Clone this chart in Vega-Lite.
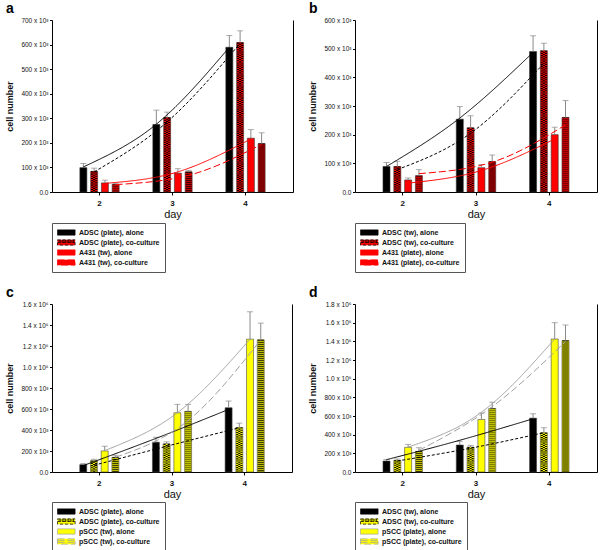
{
  "$schema": "https://vega.github.io/schema/vega-lite/v6.json",
  "autosize": {"type": "none"},
  "padding": {"left": 52, "top": 20, "right": 548, "bottom": 530},
  "background": "white",
  "datasets": {
    "bars": [
      {"panel": "a", "day": 2, "series": "ADSC (plate), alone", "value": 99, "hi": 116, "trend": 102},
      {"panel": "a", "day": 3, "series": "ADSC (plate), alone", "value": 275, "hi": 333, "trend": 276},
      {"panel": "a", "day": 4, "series": "ADSC (plate), alone", "value": 589, "hi": 637, "trend": 589},
      {"panel": "a", "day": 2, "series": "ADSC (plate), co-culture", "value": 84, "hi": 97, "trend": 82},
      {"panel": "a", "day": 3, "series": "ADSC (plate), co-culture", "value": 303, "hi": 325, "trend": 285},
      {"panel": "a", "day": 4, "series": "ADSC (plate), co-culture", "value": 608, "hi": 656, "trend": 605},
      {"panel": "a", "day": 2, "series": "A431 (tw), alone", "value": 37, "hi": 48, "trend": 35},
      {"panel": "a", "day": 3, "series": "A431 (tw), alone", "value": 77, "hi": 95, "trend": 82},
      {"panel": "a", "day": 4, "series": "A431 (tw), alone", "value": 219, "hi": 254, "trend": 216},
      {"panel": "a", "day": 2, "series": "A431 (tw), co-culture", "value": 31, "hi": 35, "trend": 30},
      {"panel": "a", "day": 3, "series": "A431 (tw), co-culture", "value": 82, "hi": 88, "trend": 68},
      {"panel": "a", "day": 4, "series": "A431 (tw), co-culture", "value": 197, "hi": 241, "trend": 194},
      {"panel": "b", "day": 2, "series": "ADSC (tw), alone", "value": 89, "hi": 103, "trend": 89},
      {"panel": "b", "day": 3, "series": "ADSC (tw), alone", "value": 254, "hi": 298, "trend": 258},
      {"panel": "b", "day": 4, "series": "ADSC (tw), alone", "value": 490, "hi": 545, "trend": 487},
      {"panel": "b", "day": 2, "series": "ADSC (tw), co-culture", "value": 89, "hi": 107, "trend": 78},
      {"panel": "b", "day": 3, "series": "ADSC (tw), co-culture", "value": 224, "hi": 266, "trend": 205},
      {"panel": "b", "day": 4, "series": "ADSC (tw), co-culture", "value": 493, "hi": 519, "trend": 449},
      {"panel": "b", "day": 2, "series": "A431 (plate), alone", "value": 42, "hi": 49, "trend": 31},
      {"panel": "b", "day": 3, "series": "A431 (plate), alone", "value": 85, "hi": 96, "trend": 75},
      {"panel": "b", "day": 4, "series": "A431 (plate), alone", "value": 200, "hi": 226, "trend": 185},
      {"panel": "b", "day": 2, "series": "A431 (plate), co-culture", "value": 57, "hi": 78, "trend": 64},
      {"panel": "b", "day": 3, "series": "A431 (plate), co-culture", "value": 106, "hi": 129, "trend": 104},
      {"panel": "b", "day": 4, "series": "A431 (plate), co-culture", "value": 260, "hi": 319, "trend": 234},
      {"panel": "c", "day": 2, "series": "ADSC (plate), alone", "value": 70, "hi": 80, "trend": 61},
      {"panel": "c", "day": 3, "series": "ADSC (plate), alone", "value": 284, "hi": 331, "trend": 320},
      {"panel": "c", "day": 4, "series": "ADSC (plate), alone", "value": 612, "hi": 676, "trend": 596},
      {"panel": "c", "day": 2, "series": "ADSC (plate), co-culture", "value": 108, "hi": 121, "trend": 64},
      {"panel": "c", "day": 3, "series": "ADSC (plate), co-culture", "value": 268, "hi": 287, "trend": 245},
      {"panel": "c", "day": 4, "series": "ADSC (plate), co-culture", "value": 424, "hi": 465, "trend": 421},
      {"panel": "c", "day": 2, "series": "pSCC (tw), alone", "value": 201, "hi": 245, "trend": 204},
      {"panel": "c", "day": 3, "series": "pSCC (tw), alone", "value": 564, "hi": 644, "trend": 564},
      {"panel": "c", "day": 4, "series": "pSCC (tw), alone", "value": 1265, "hi": 1526, "trend": 1265},
      {"panel": "c", "day": 2, "series": "pSCC (tw), co-culture", "value": 140, "hi": 159, "trend": 140},
      {"panel": "c", "day": 3, "series": "pSCC (tw), co-culture", "value": 577, "hi": 644, "trend": 490},
      {"panel": "c", "day": 4, "series": "pSCC (tw), co-culture", "value": 1259, "hi": 1418, "trend": 1259},
      {"panel": "d", "day": 2, "series": "ADSC (tw), alone", "value": 118, "hi": 135, "trend": 132},
      {"panel": "d", "day": 3, "series": "ADSC (tw), alone", "value": 289, "hi": 328, "trend": 340},
      {"panel": "d", "day": 4, "series": "ADSC (tw), alone", "value": 577, "hi": 624, "trend": 570},
      {"panel": "d", "day": 2, "series": "ADSC (tw), co-culture", "value": 125, "hi": 139, "trend": 118},
      {"panel": "d", "day": 3, "series": "ADSC (tw), co-culture", "value": 267, "hi": 285, "trend": 255},
      {"panel": "d", "day": 4, "series": "ADSC (tw), co-culture", "value": 421, "hi": 474, "trend": 421},
      {"panel": "d", "day": 2, "series": "pSCC (plate), alone", "value": 264, "hi": 296, "trend": 267},
      {"panel": "d", "day": 3, "series": "pSCC (plate), alone", "value": 563, "hi": 631, "trend": 640},
      {"panel": "d", "day": 4, "series": "pSCC (plate), alone", "value": 1425, "hi": 1600, "trend": 1425},
      {"panel": "d", "day": 2, "series": "pSCC (plate), co-culture", "value": 221, "hi": 260, "trend": 232},
      {"panel": "d", "day": 3, "series": "pSCC (plate), co-culture", "value": 681, "hi": 748, "trend": 700},
      {"panel": "d", "day": 4, "series": "pSCC (plate), co-culture", "value": 1408, "hi": 1575, "trend": 1397}
    ]
  },
  "columns": 2,
  "bounds": "flush",
  "spacing": {"row": 112, "column": 62},
  "resolve": {
    "scale": {"xOffset": "independent", "fill": "independent", "stroke": "independent", "strokeDash": "independent", "shape": "independent"},
    "legend": {"fill": "independent", "shape": "independent"}
  },
  "concat": [
    {
      "width": 241, "height": 172,
      "title": "a",
      "data": {"name": "bars"},
      "transform": [{"filter": "datum.panel == 'a'"}],
      "resolve": {"axis": {"y": "independent"}},
      "encoding": {
        "x": {"field": "day", "type": "ordinal", "title": "day", "scale": {"paddingInner": 0.41, "paddingOuter": 0.356}},
        "xOffset": {"field": "series", "type": "nominal", "scale": {"domain": ["ADSC (plate), alone", "ADSC (plate), co-culture", "A431 (tw), alone", "A431 (tw), co-culture"], "paddingInner": 0.35, "paddingOuter": 0.175}},
        "y": {"field": "value", "type": "quantitative", "scale": {"domain": [0, 700], "nice": false}, "axis": null}
      },
      "layer": [
        {
          "mark": {"type": "bar", "stroke": "#333", "strokeWidth": 0.6},
          "encoding": {
            "y": {"field": "value", "type": "quantitative", "scale": {"domain": [0, 700], "nice": false}, "title": "cell number",
              "axis": {"values": [0, 100, 200, 300, 400, 500, 600, 700], "labelExpr": "datum.value == 0 ? '0.0' : datum.value < 1000 ? datum.value + ' x 10³' : format(datum.value / 1000, '.1f') + ' x 10⁶'"}},
            "fill": {"field": "series", "type": "nominal", "scale": {"domain": ["ADSC (plate), alone", "ADSC (plate), co-culture", "A431 (tw), alone", "A431 (tw), co-culture"], "range": ["#000000", "#ff0000", "#ff0000", "#ff0000"]},
              "legend": {"orient": "none", "legendX": 0, "legendY": 203, "title": null}}
          }
        },
        {"transform": [{"filter": "indexof(datum.series, 'ADSC') == 0 && indexof(datum.series, 'co-culture') > 0"}],
         "mark": {"type": "rule", "color": "#000", "strokeWidth": 6.2, "strokeDash": [1.1, 1.1], "strokeCap": "butt"}, "encoding": {"y2": {"datum": 0}}},
        {"transform": [{"filter": "indexof(datum.series, 'ADSC') == 0 && indexof(datum.series, 'co-culture') > 0"}],
         "mark": {"type": "rule", "color": "#ff0000", "strokeWidth": 2.1, "strokeCap": "butt"}, "encoding": {"y2": {"datum": 0}}},
        {"transform": [{"filter": "indexof(datum.series, 'ADSC') == 0 && indexof(datum.series, 'co-culture') > 0"}],
         "mark": {"type": "rule", "color": "#000", "strokeWidth": 2.1, "strokeDash": [1.1, 1.1], "strokeDashOffset": 1.1, "strokeCap": "butt"}, "encoding": {"y2": {"datum": 0}}},
        {"transform": [{"filter": "indexof(datum.series, 'ADSC') != 0 && indexof(datum.series, 'co-culture') > 0"}],
         "mark": {"type": "rule", "color": "#000", "strokeWidth": 6.2, "strokeDash": [0.9, 1.1], "strokeCap": "butt"}, "encoding": {"y2": {"datum": 0}}},
        {"mark": {"type": "rule", "color": "#8a8a8a", "strokeWidth": 1}, "encoding": {"y2": {"field": "hi"}}},
        {"mark": {"type": "tick", "color": "#8a8a8a", "size": 6, "thickness": 1},
         "encoding": {"y": {"field": "hi", "type": "quantitative", "scale": {"domain": [0, 700], "nice": false}, "axis": null}}},
        {
          "mark": {"type": "line", "strokeWidth": 1, "interpolate": "monotone"},
          "encoding": {
            "y": {"field": "trend", "type": "quantitative", "scale": {"domain": [0, 700], "nice": false}, "axis": {"orient": "right", "labels": false, "ticks": false, "title": null}},
            "stroke": {"field": "series", "type": "nominal", "scale": {"domain": ["ADSC (plate), alone", "ADSC (plate), co-culture", "A431 (tw), alone", "A431 (tw), co-culture"], "range": ["#000000", "#000000", "#ff0000", "#ff0000"]}, "legend": null},
            "strokeDash": {"field": "series", "type": "nominal", "scale": {"domain": ["ADSC (plate), alone", "ADSC (plate), co-culture", "A431 (tw), alone", "A431 (tw), co-culture"], "range": [[1, 0], [3, 2], [1, 0], [7, 3]]}, "legend": null}
          }
        },
        {
          "transform": [{"filter": "false"}],
          "mark": {"type": "point", "filled": true, "stroke": "#111", "strokeWidth": 0.7},
          "encoding": {
            "fill": {"field": "series", "type": "nominal", "scale": {"domain": ["ADSC (plate), alone", "ADSC (plate), co-culture", "A431 (tw), alone", "A431 (tw), co-culture"], "range": ["#000000", "#ff0000", "#ff0000", "#ff0000"]},
              "legend": {"orient": "none", "legendX": 0, "legendY": 203, "title": null}},
            "shape": {"field": "series", "type": "nominal", "scale": {"domain": ["ADSC (plate), alone", "ADSC (plate), co-culture", "A431 (tw), alone", "A431 (tw), co-culture"], "range": ["M-1,-0.66H3.4V0.66H-1Z", "M-1,-0.66H3.4V0.66H-1ZM-1,0H3.4M-0.6,-0.66V0.66M-0.2,-0.66V0.66M0.2,-0.66V0.66M0.6,-0.66V0.66M1,-0.66V0.66M1.4,-0.66V0.66M1.8,-0.66V0.66M2.2,-0.66V0.66M2.6,-0.66V0.66M3,-0.66V0.66", "M-1,-0.66H3.4V0.66H-1Z", "M-1,-0.66H3.4V0.66H-1ZM-1,-0.22H3.4M-1,0.22H3.4"]},
              "legend": {"orient": "none", "legendX": 0, "legendY": 203, "title": null}}
          }
        }
      ]
    },
    {
      "width": 242, "height": 172,
      "title": "b",
      "data": {"name": "bars"},
      "transform": [{"filter": "datum.panel == 'b'"}],
      "resolve": {"axis": {"y": "independent"}},
      "encoding": {
        "x": {"field": "day", "type": "ordinal", "title": "day", "scale": {"paddingInner": 0.41, "paddingOuter": 0.356}},
        "xOffset": {"field": "series", "type": "nominal", "scale": {"domain": ["ADSC (tw), alone", "ADSC (tw), co-culture", "A431 (plate), alone", "A431 (plate), co-culture"], "paddingInner": 0.35, "paddingOuter": 0.175}},
        "y": {"field": "value", "type": "quantitative", "scale": {"domain": [0, 600], "nice": false}, "axis": null}
      },
      "layer": [
        {
          "mark": {"type": "bar", "stroke": "#333", "strokeWidth": 0.6},
          "encoding": {
            "y": {"field": "value", "type": "quantitative", "scale": {"domain": [0, 600], "nice": false}, "title": "cell number",
              "axis": {"values": [0, 100, 200, 300, 400, 500, 600], "labelExpr": "datum.value == 0 ? '0.0' : datum.value < 1000 ? datum.value + ' x 10³' : format(datum.value / 1000, '.1f') + ' x 10⁶'"}},
            "fill": {"field": "series", "type": "nominal", "scale": {"domain": ["ADSC (tw), alone", "ADSC (tw), co-culture", "A431 (plate), alone", "A431 (plate), co-culture"], "range": ["#000000", "#ff0000", "#ff0000", "#ff0000"]},
              "legend": {"orient": "none", "legendX": 0, "legendY": 203, "title": null}}
          }
        },
        {"transform": [{"filter": "indexof(datum.series, 'ADSC') == 0 && indexof(datum.series, 'co-culture') > 0"}],
         "mark": {"type": "rule", "color": "#000", "strokeWidth": 6.2, "strokeDash": [1.1, 1.1], "strokeCap": "butt"}, "encoding": {"y2": {"datum": 0}}},
        {"transform": [{"filter": "indexof(datum.series, 'ADSC') == 0 && indexof(datum.series, 'co-culture') > 0"}],
         "mark": {"type": "rule", "color": "#ff0000", "strokeWidth": 2.1, "strokeCap": "butt"}, "encoding": {"y2": {"datum": 0}}},
        {"transform": [{"filter": "indexof(datum.series, 'ADSC') == 0 && indexof(datum.series, 'co-culture') > 0"}],
         "mark": {"type": "rule", "color": "#000", "strokeWidth": 2.1, "strokeDash": [1.1, 1.1], "strokeDashOffset": 1.1, "strokeCap": "butt"}, "encoding": {"y2": {"datum": 0}}},
        {"transform": [{"filter": "indexof(datum.series, 'ADSC') != 0 && indexof(datum.series, 'co-culture') > 0"}],
         "mark": {"type": "rule", "color": "#000", "strokeWidth": 6.2, "strokeDash": [0.9, 1.1], "strokeCap": "butt"}, "encoding": {"y2": {"datum": 0}}},
        {"mark": {"type": "rule", "color": "#8a8a8a", "strokeWidth": 1}, "encoding": {"y2": {"field": "hi"}}},
        {"mark": {"type": "tick", "color": "#8a8a8a", "size": 6, "thickness": 1},
         "encoding": {"y": {"field": "hi", "type": "quantitative", "scale": {"domain": [0, 600], "nice": false}, "axis": null}}},
        {
          "mark": {"type": "line", "strokeWidth": 1, "interpolate": "monotone"},
          "encoding": {
            "y": {"field": "trend", "type": "quantitative", "scale": {"domain": [0, 600], "nice": false}, "axis": {"orient": "right", "labels": false, "ticks": false, "title": null}},
            "stroke": {"field": "series", "type": "nominal", "scale": {"domain": ["ADSC (tw), alone", "ADSC (tw), co-culture", "A431 (plate), alone", "A431 (plate), co-culture"], "range": ["#000000", "#000000", "#ff0000", "#ff0000"]}, "legend": null},
            "strokeDash": {"field": "series", "type": "nominal", "scale": {"domain": ["ADSC (tw), alone", "ADSC (tw), co-culture", "A431 (plate), alone", "A431 (plate), co-culture"], "range": [[1, 0], [3, 2], [1, 0], [7, 3]]}, "legend": null}
          }
        },
        {
          "transform": [{"filter": "false"}],
          "mark": {"type": "point", "filled": true, "stroke": "#111", "strokeWidth": 0.7},
          "encoding": {
            "fill": {"field": "series", "type": "nominal", "scale": {"domain": ["ADSC (tw), alone", "ADSC (tw), co-culture", "A431 (plate), alone", "A431 (plate), co-culture"], "range": ["#000000", "#ff0000", "#ff0000", "#ff0000"]},
              "legend": {"orient": "none", "legendX": 0, "legendY": 203, "title": null}},
            "shape": {"field": "series", "type": "nominal", "scale": {"domain": ["ADSC (tw), alone", "ADSC (tw), co-culture", "A431 (plate), alone", "A431 (plate), co-culture"], "range": ["M-1,-0.66H3.4V0.66H-1Z", "M-1,-0.66H3.4V0.66H-1ZM-1,0H3.4M-0.6,-0.66V0.66M-0.2,-0.66V0.66M0.2,-0.66V0.66M0.6,-0.66V0.66M1,-0.66V0.66M1.4,-0.66V0.66M1.8,-0.66V0.66M2.2,-0.66V0.66M2.6,-0.66V0.66M3,-0.66V0.66", "M-1,-0.66H3.4V0.66H-1Z", "M-1,-0.66H3.4V0.66H-1ZM-1,-0.22H3.4M-1,0.22H3.4"]},
              "legend": {"orient": "none", "legendX": 0, "legendY": 203, "title": null}}
          }
        }
      ]
    },
    {
      "width": 240, "height": 168,
      "title": "c",
      "data": {"name": "bars"},
      "transform": [{"filter": "datum.panel == 'c'"}],
      "resolve": {"axis": {"y": "independent"}},
      "encoding": {
        "x": {"field": "day", "type": "ordinal", "title": "day", "scale": {"paddingInner": 0.41, "paddingOuter": 0.356}},
        "xOffset": {"field": "series", "type": "nominal", "scale": {"domain": ["ADSC (plate), alone", "ADSC (plate), co-culture", "pSCC (tw), alone", "pSCC (tw), co-culture"], "paddingInner": 0.35, "paddingOuter": 0.175}},
        "y": {"field": "value", "type": "quantitative", "scale": {"domain": [0, 1600], "nice": false}, "axis": null}
      },
      "layer": [
        {
          "mark": {"type": "bar", "stroke": "#444", "strokeWidth": 0.6},
          "encoding": {
            "y": {"field": "value", "type": "quantitative", "scale": {"domain": [0, 1600], "nice": false}, "title": "cell number",
              "axis": {"values": [0, 200, 400, 600, 800, 1000, 1200, 1400, 1600], "labelExpr": "datum.value == 0 ? '0.0' : datum.value < 1000 ? datum.value + ' x 10³' : format(datum.value / 1000, '.1f') + ' x 10⁶'"}},
            "fill": {"field": "series", "type": "nominal", "scale": {"domain": ["ADSC (plate), alone", "ADSC (plate), co-culture", "pSCC (tw), alone", "pSCC (tw), co-culture"], "range": ["#000000", "#ffff00", "#ffff00", "#ffff00"]},
              "legend": {"orient": "none", "legendX": 0, "legendY": 198, "title": null}}
          }
        },
        {"transform": [{"filter": "indexof(datum.series, 'ADSC') == 0 && indexof(datum.series, 'co-culture') > 0"}],
         "mark": {"type": "rule", "color": "#000", "strokeWidth": 6.2, "strokeDash": [1.1, 1.1], "strokeCap": "butt"}, "encoding": {"y2": {"datum": 0}}},
        {"transform": [{"filter": "indexof(datum.series, 'ADSC') == 0 && indexof(datum.series, 'co-culture') > 0"}],
         "mark": {"type": "rule", "color": "#ffff00", "strokeWidth": 2.1, "strokeCap": "butt"}, "encoding": {"y2": {"datum": 0}}},
        {"transform": [{"filter": "indexof(datum.series, 'ADSC') == 0 && indexof(datum.series, 'co-culture') > 0"}],
         "mark": {"type": "rule", "color": "#000", "strokeWidth": 2.1, "strokeDash": [1.1, 1.1], "strokeDashOffset": 1.1, "strokeCap": "butt"}, "encoding": {"y2": {"datum": 0}}},
        {"transform": [{"filter": "indexof(datum.series, 'ADSC') != 0 && indexof(datum.series, 'co-culture') > 0"}],
         "mark": {"type": "rule", "color": "#000", "strokeWidth": 6.2, "strokeDash": [0.9, 1.1], "strokeCap": "butt"}, "encoding": {"y2": {"datum": 0}}},
        {"mark": {"type": "rule", "color": "#8a8a8a", "strokeWidth": 1}, "encoding": {"y2": {"field": "hi"}}},
        {"mark": {"type": "tick", "color": "#8a8a8a", "size": 6, "thickness": 1},
         "encoding": {"y": {"field": "hi", "type": "quantitative", "scale": {"domain": [0, 1600], "nice": false}, "axis": null}}},
        {
          "mark": {"type": "line", "strokeWidth": 1, "interpolate": "monotone"},
          "encoding": {
            "y": {"field": "trend", "type": "quantitative", "scale": {"domain": [0, 1600], "nice": false}, "axis": {"orient": "right", "labels": false, "ticks": false, "title": null}},
            "stroke": {"field": "series", "type": "nominal", "scale": {"domain": ["ADSC (plate), alone", "ADSC (plate), co-culture", "pSCC (tw), alone", "pSCC (tw), co-culture"], "range": ["#000000", "#000000", "#a0a0a0", "#a0a0a0"]}, "legend": null},
            "strokeDash": {"field": "series", "type": "nominal", "scale": {"domain": ["ADSC (plate), alone", "ADSC (plate), co-culture", "pSCC (tw), alone", "pSCC (tw), co-culture"], "range": [[1, 0], [3, 2], [1, 0], [7, 3]]}, "legend": null}
          }
        },
        {
          "transform": [{"filter": "false"}],
          "mark": {"type": "point", "filled": true, "stroke": "#111", "strokeWidth": 0.7},
          "encoding": {
            "fill": {"field": "series", "type": "nominal", "scale": {"domain": ["ADSC (plate), alone", "ADSC (plate), co-culture", "pSCC (tw), alone", "pSCC (tw), co-culture"], "range": ["#000000", "#ffff00", "#ffff00", "#ffff00"]},
              "legend": {"orient": "none", "legendX": 0, "legendY": 198, "title": null}},
            "shape": {"field": "series", "type": "nominal", "scale": {"domain": ["ADSC (plate), alone", "ADSC (plate), co-culture", "pSCC (tw), alone", "pSCC (tw), co-culture"], "range": ["M-1,-0.66H3.4V0.66H-1Z", "M-1,-0.66H3.4V0.66H-1ZM-1,0H3.4M-0.6,-0.66V0.66M-0.2,-0.66V0.66M0.2,-0.66V0.66M0.6,-0.66V0.66M1,-0.66V0.66M1.4,-0.66V0.66M1.8,-0.66V0.66M2.2,-0.66V0.66M2.6,-0.66V0.66M3,-0.66V0.66", "M-1,-0.66H3.4V0.66H-1Z", "M-1,-0.66H3.4V0.66H-1ZM-1,-0.22H3.4M-1,0.22H3.4"]},
              "legend": {"orient": "none", "legendX": 0, "legendY": 198, "title": null}}
          }
        }
      ]
    },
    {
      "width": 242, "height": 168,
      "title": "d",
      "data": {"name": "bars"},
      "transform": [{"filter": "datum.panel == 'd'"}],
      "resolve": {"axis": {"y": "independent"}},
      "encoding": {
        "x": {"field": "day", "type": "ordinal", "title": "day", "scale": {"paddingInner": 0.41, "paddingOuter": 0.356}},
        "xOffset": {"field": "series", "type": "nominal", "scale": {"domain": ["ADSC (tw), alone", "ADSC (tw), co-culture", "pSCC (plate), alone", "pSCC (plate), co-culture"], "paddingInner": 0.35, "paddingOuter": 0.175}},
        "y": {"field": "value", "type": "quantitative", "scale": {"domain": [0, 1800], "nice": false}, "axis": null}
      },
      "layer": [
        {
          "mark": {"type": "bar", "stroke": "#444", "strokeWidth": 0.6},
          "encoding": {
            "y": {"field": "value", "type": "quantitative", "scale": {"domain": [0, 1800], "nice": false}, "title": "cell number",
              "axis": {"values": [0, 200, 400, 600, 800, 1000, 1200, 1400, 1600, 1800], "labelExpr": "datum.value == 0 ? '0.0' : datum.value < 1000 ? datum.value + ' x 10³' : format(datum.value / 1000, '.1f') + ' x 10⁶'"}},
            "fill": {"field": "series", "type": "nominal", "scale": {"domain": ["ADSC (tw), alone", "ADSC (tw), co-culture", "pSCC (plate), alone", "pSCC (plate), co-culture"], "range": ["#000000", "#ffff00", "#ffff00", "#ffff00"]},
              "legend": {"orient": "none", "legendX": 0, "legendY": 198, "title": null}}
          }
        },
        {"transform": [{"filter": "indexof(datum.series, 'ADSC') == 0 && indexof(datum.series, 'co-culture') > 0"}],
         "mark": {"type": "rule", "color": "#000", "strokeWidth": 6.2, "strokeDash": [1.1, 1.1], "strokeCap": "butt"}, "encoding": {"y2": {"datum": 0}}},
        {"transform": [{"filter": "indexof(datum.series, 'ADSC') == 0 && indexof(datum.series, 'co-culture') > 0"}],
         "mark": {"type": "rule", "color": "#ffff00", "strokeWidth": 2.1, "strokeCap": "butt"}, "encoding": {"y2": {"datum": 0}}},
        {"transform": [{"filter": "indexof(datum.series, 'ADSC') == 0 && indexof(datum.series, 'co-culture') > 0"}],
         "mark": {"type": "rule", "color": "#000", "strokeWidth": 2.1, "strokeDash": [1.1, 1.1], "strokeDashOffset": 1.1, "strokeCap": "butt"}, "encoding": {"y2": {"datum": 0}}},
        {"transform": [{"filter": "indexof(datum.series, 'ADSC') != 0 && indexof(datum.series, 'co-culture') > 0"}],
         "mark": {"type": "rule", "color": "#000", "strokeWidth": 6.2, "strokeDash": [0.9, 1.1], "strokeCap": "butt"}, "encoding": {"y2": {"datum": 0}}},
        {"mark": {"type": "rule", "color": "#8a8a8a", "strokeWidth": 1}, "encoding": {"y2": {"field": "hi"}}},
        {"mark": {"type": "tick", "color": "#8a8a8a", "size": 6, "thickness": 1},
         "encoding": {"y": {"field": "hi", "type": "quantitative", "scale": {"domain": [0, 1800], "nice": false}, "axis": null}}},
        {
          "mark": {"type": "line", "strokeWidth": 1, "interpolate": "monotone"},
          "encoding": {
            "y": {"field": "trend", "type": "quantitative", "scale": {"domain": [0, 1800], "nice": false}, "axis": {"orient": "right", "labels": false, "ticks": false, "title": null}},
            "stroke": {"field": "series", "type": "nominal", "scale": {"domain": ["ADSC (tw), alone", "ADSC (tw), co-culture", "pSCC (plate), alone", "pSCC (plate), co-culture"], "range": ["#000000", "#000000", "#a0a0a0", "#a0a0a0"]}, "legend": null},
            "strokeDash": {"field": "series", "type": "nominal", "scale": {"domain": ["ADSC (tw), alone", "ADSC (tw), co-culture", "pSCC (plate), alone", "pSCC (plate), co-culture"], "range": [[1, 0], [3, 2], [1, 0], [7, 3]]}, "legend": null}
          }
        },
        {
          "transform": [{"filter": "false"}],
          "mark": {"type": "point", "filled": true, "stroke": "#111", "strokeWidth": 0.7},
          "encoding": {
            "fill": {"field": "series", "type": "nominal", "scale": {"domain": ["ADSC (tw), alone", "ADSC (tw), co-culture", "pSCC (plate), alone", "pSCC (plate), co-culture"], "range": ["#000000", "#ffff00", "#ffff00", "#ffff00"]},
              "legend": {"orient": "none", "legendX": 0, "legendY": 198, "title": null}},
            "shape": {"field": "series", "type": "nominal", "scale": {"domain": ["ADSC (tw), alone", "ADSC (tw), co-culture", "pSCC (plate), alone", "pSCC (plate), co-culture"], "range": ["M-1,-0.66H3.4V0.66H-1Z", "M-1,-0.66H3.4V0.66H-1ZM-1,0H3.4M-0.6,-0.66V0.66M-0.2,-0.66V0.66M0.2,-0.66V0.66M0.6,-0.66V0.66M1,-0.66V0.66M1.4,-0.66V0.66M1.8,-0.66V0.66M2.2,-0.66V0.66M2.6,-0.66V0.66M3,-0.66V0.66", "M-1,-0.66H3.4V0.66H-1Z", "M-1,-0.66H3.4V0.66H-1ZM-1,-0.22H3.4M-1,0.22H3.4"]},
              "legend": {"orient": "none", "legendX": 0, "legendY": 198, "title": null}}
          }
        }
      ]
    }
  ],
  "config": {
    "view": {"stroke": null},
    "font": "Liberation Sans",
    "axis": {"grid": false, "domainColor": "#000", "tickColor": "#000", "labelColor": "#111", "titleColor": "#111", "labelFont": "Liberation Sans", "titleFont": "Liberation Sans"},
    "axisX": {"labelAngle": 0, "labelFontSize": 8, "labelFontWeight": "bold", "tickSize": 3, "labelPadding": 4, "titleFontSize": 11, "titleFontWeight": "normal", "titlePadding": 1},
    "axisY": {"labelFontSize": 6.5, "tickSize": 2.5, "labelPadding": 1.5, "titleFontSize": 9, "titleFontWeight": "bold", "titlePadding": 6},
    "title": {"anchor": "start", "frame": "bounds", "fontSize": 14, "fontWeight": "bold", "offset": 1, "font": "Liberation Sans", "color": "#000"},
    "legend": {"direction": "vertical", "strokeColor": "#555", "padding": 5, "symbolSize": 64, "symbolStrokeWidth": 0.7, "symbolStrokeColor": "#111", "symbolOpacity": 1, "labelFont": "Liberation Sans", "labelFontSize": 7, "labelFontWeight": "bold", "labelColor": "#111", "labelOffset": 13, "rowPadding": 1}
  }
}
